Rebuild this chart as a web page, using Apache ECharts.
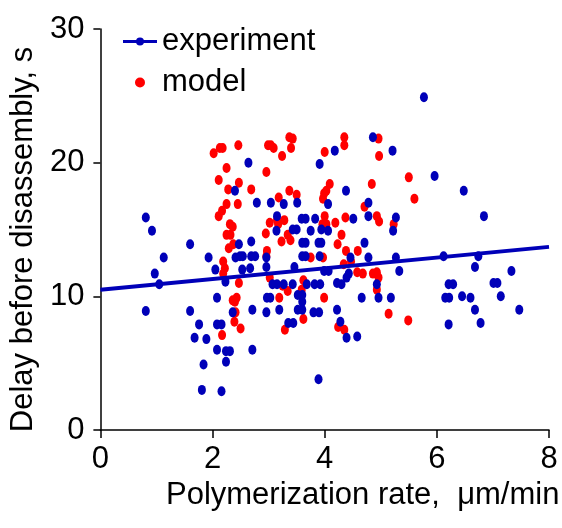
<!DOCTYPE html>
<html>
<head>
<meta charset="utf-8">
<script src="https://cdn.jsdelivr.net/npm/echarts@6/dist/echarts.min.js"></script>
<style>html,body{margin:0;padding:0;background:#fff}#c{width:562px;height:528px}</style>
</head>
<body>
<div id="c"></div>
<script>
const xTicks = [0, 2, 4, 6, 8];
const yTicks = [0, 10, 20, 30];
const trendX = [0, 8];
const trendY = [10.5, 13.7];
const experimentPoints = [
  [0.81,15.9],[0.92,14.9],[1.13,12.9],[0.97,11.7],[1.05,10.9],[0.81,8.9],[1.60,13.9],[1.60,8.9],
  [1.76,7.9],[1.68,6.9],[1.89,6.8],[1.84,4.9],[1.81,3.0],[2.16,2.9],[2.08,6.0],[2.24,5.9],[2.31,5.9],
  [2.24,5.1],[2.08,9.9],[2.05,12.0],[2.23,11.1],[2.36,8.8],[2.08,7.9],[2.16,7.9],[1.93,12.9],[2.41,12.9],
  [2.49,13.0],[2.54,13.0],[2.69,13.0],[2.76,13.0],[2.53,12.0],[2.67,12.1],[2.71,9.0],[2.71,6.0],[2.47,13.9],
  [2.69,14.1],[2.64,20.0],[2.40,17.9],[2.96,12.2],[3.46,12.2],[2.79,17.0],[3.04,17.0],[3.27,16.9],[3.51,17.0],
  [3.91,19.9],[4.18,20.9],[4.86,21.9],[5.21,20.9],[4.38,17.9],[4.06,16.9],[4.78,17.0],[3.15,16.0],[3.14,14.9],
  [3.59,15.8],[3.66,15.8],[3.83,15.8],[3.94,15.0],[4.06,14.9],[4.51,15.8],[4.78,16.0],[5.27,15.9],[5.22,14.9],
  [3.43,15.0],[3.50,15.0],[3.75,14.9],[3.60,14.0],[3.66,14.0],[3.89,14.0],[3.94,14.0],[4.71,14.0],[2.96,12.9],
  [3.60,13.0],[3.66,13.0],[3.91,13.0],[4.78,12.9],[5.27,12.9],[4.46,12.9],[3.99,11.9],[4.07,11.9],[5.33,11.9],
  [4.43,11.7],[4.39,11.4],[4.93,10.9],[3.07,10.9],[3.15,10.9],[3.27,10.9],[3.43,10.9],[3.68,10.9],[3.82,10.9],
  [3.92,10.9],[4.22,11.0],[4.30,10.9],[2.97,9.9],[3.03,9.9],[3.52,10.1],[3.60,10.1],[3.60,9.6],[4.66,9.9],
  [4.96,9.9],[5.18,9.9],[2.96,8.8],[3.19,9.0],[3.52,9.0],[3.60,9.0],[3.80,8.8],[3.90,8.8],[4.22,9.0],
  [3.35,8.0],[3.44,8.0],[4.28,8.1],[4.39,6.9],[4.58,7.0],[3.89,3.8],[5.77,24.9],[5.96,19.0],[6.48,17.9],
  [6.84,16.0],[6.12,13.0],[6.74,13.0],[6.68,12.2],[7.33,11.9],[6.21,10.9],[6.29,10.9],[6.15,9.9],[6.22,9.9],
  [6.45,10.0],[6.60,9.9],[6.21,7.9],[7.01,11.0],[7.08,11.0],[7.14,10.0],[7.47,9.0],[6.68,9.0],[6.78,8.0]
];
const modelPoints = [
  [2.02,20.7],[2.13,21.1],[2.18,21.1],[2.46,21.3],[2.25,19.6],[2.11,18.7],[2.47,18.5],[2.28,18.0],[2.69,18.0],
  [2.25,16.9],[2.45,16.9],[2.17,16.4],[2.11,16.0],[2.31,15.4],[2.36,15.2],[2.25,14.6],[2.32,14.6],[2.37,13.9],
  [2.29,13.6],[2.19,12.6],[2.22,12.1],[2.19,11.7],[2.47,11.0],[2.36,9.7],[2.43,9.9],[2.40,9.6],[2.41,8.8],
  [2.39,8.1],[2.50,7.6],[2.17,7.1],[3.37,21.9],[3.43,21.8],[2.99,21.3],[3.04,21.3],[3.09,21.1],[3.40,21.1],
  [3.24,20.5],[4.00,20.8],[4.35,21.9],[4.35,21.3],[4.96,21.8],[4.97,20.5],[2.96,19.3],[3.37,17.9],[3.50,17.6],
  [3.18,17.4],[4.09,18.4],[4.03,17.9],[3.99,17.7],[3.97,17.3],[4.84,18.4],[4.71,16.7],[3.02,15.5],[3.15,15.7],
  [3.17,15.4],[3.28,15.7],[4.00,16.0],[3.96,15.4],[4.03,15.4],[4.19,15.5],[4.37,15.9],[4.93,16.0],[4.97,15.6],
  [5.23,15.4],[2.95,14.7],[3.34,14.6],[3.39,14.2],[3.23,14.1],[4.30,14.6],[4.23,13.9],[2.97,13.4],[2.96,13.0],
  [3.75,12.9],[3.97,12.9],[4.38,13.4],[4.59,13.4],[4.47,12.6],[4.34,12.4],[4.58,11.8],[4.68,11.7],[4.86,11.7],
  [4.93,11.8],[4.96,11.4],[4.93,10.5],[3.02,11.4],[3.25,10.8],[3.34,10.4],[3.62,11.2],[3.59,10.5],[3.19,9.9],
  [3.99,9.9],[5.14,8.7],[3.62,8.3],[3.29,7.5],[4.24,7.7],[4.35,7.5],[5.50,18.9],[5.60,17.3],[5.49,8.2]
];

const BLUE = '#0000b8';
const RED = '#ff0000';
const FONT = '"Liberation Sans", Arial, sans-serif';
const FS = 31;

const chart = echarts.init(document.getElementById('c'), null, {renderer: 'canvas'});
chart.setOption({
  animation: false,
  backgroundColor: '#fff',
  grid: {left: 96, right: 13, top: 29, bottom: 98, containLabel: false},
  legend: {
    left: 118, top: 21, orient: 'vertical',
    itemWidth: 34, itemHeight: 10, itemGap: 10,
    textStyle: {fontFamily: FONT, fontSize: FS, color: '#000', lineHeight: 31},
    data: [
      {name: 'experiment', icon: 'path://M0,3.5 L13.3,3.5 L13.3,6.5 L0,6.5 Z M20.7,3.5 L34,3.5 L34,6.5 L20.7,6.5 Z M13,5 A4,4 0 1 1 21,5 A4,4 0 1 1 13,5 Z'},
      {name: 'model', icon: 'circle'}
    ]
  },
  xAxis: {
    type: 'value', min: xTicks[0], max: xTicks[xTicks.length-1], interval: 2,
    name: 'Polymerization rate,  μm/min', nameLocation: 'middle', nameGap: 50,
    nameTextStyle: {fontFamily: FONT, fontSize: FS, color: '#000', padding: [0,0,0,76]},
    axisLine: {onZero: false, lineStyle: {color: '#000', width: 1.5}},
    axisTick: {show: true, inside: false, length: 8, lineStyle: {color: '#000', width: 1.5}},
    axisLabel: {fontFamily: FONT, fontSize: FS, color: '#000', margin: 14},
    splitLine: {show: false}
  },
  yAxis: {
    type: 'value', min: yTicks[0], max: yTicks[yTicks.length-1], interval: 10,
    name: 'Delay before disassembly, s', nameLocation: 'middle', nameGap: 50,
    nameTextStyle: {fontFamily: FONT, fontSize: FS, color: '#000', padding: [0,20,0,0]},
    axisLine: {show: true, onZero: false, lineStyle: {color: '#000', width: 1.5}},
    axisTick: {show: true, inside: false, length: 7, lineStyle: {color: '#000', width: 1.5}},
    axisLabel: {fontFamily: FONT, fontSize: FS, color: '#000', margin: 16},
    splitLine: {show: false}
  },
  series: [
    {
      name: 'model', type: 'scatter', data: modelPoints,
      symbol: 'circle', symbolSize: [8, 10], itemStyle: {color: RED, opacity: 1}, z: 2
    },
    {
      name: 'experiment', type: 'scatter', data: experimentPoints,
      symbol: 'circle', symbolSize: [8, 10], itemStyle: {color: BLUE, opacity: 1}, z: 3
    },
    {
      name: 'experiment', type: 'line', data: trendX.map((x, i) => [x, trendY[i]]),
      showSymbol: false, symbol: 'none', lineStyle: {color: BLUE, width: 4}, itemStyle: {color: BLUE}, z: 4
    }
  ]
});
</script>
</body>
</html>
